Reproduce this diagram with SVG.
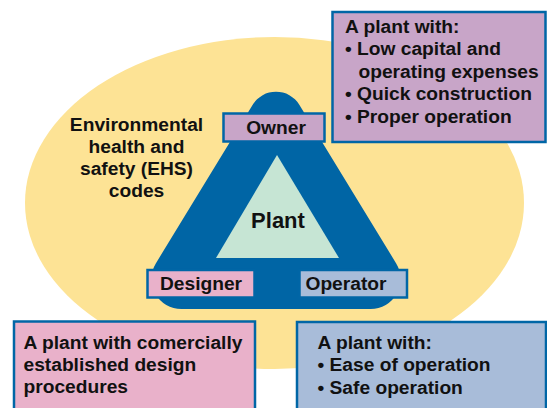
<svg xmlns="http://www.w3.org/2000/svg" width="547" height="408" viewBox="0 0 547 408">
<style>
text{font-family:"Liberation Sans",Arial,sans-serif;font-weight:bold;font-size:19.2px;fill:#111}
.box{stroke:#0066a6;stroke-width:2.5}
.c{text-anchor:middle}
</style>
<rect width="547" height="408" fill="#fff"/>
<ellipse id="ehs-zone" cx="274.5" cy="203" rx="249.5" ry="166" fill="#fde395"/>
<g id="ehs-label">
<text class="c" x="136.5" y="131">Environmental</text>
<text class="c" x="136.5" y="153">health and</text>
<text class="c" x="136.5" y="175">safety (EHS)</text>
<text class="c" x="136.5" y="197">codes</text>
</g>
<g id="triangle">
<path d="M155.8,263.4 L252.7,104.8 A27.3,27.3 0 0 1 299.3,104.8 L396.2,263.4 A30,30 0 0 1 370.6,309 L181.4,309 A30,30 0 0 1 155.8,263.4 Z" fill="#0065a5"/>
</g>
<g id="plant">
<polygon points="277,155 216,258 339,258" fill="#c6e5d4"/>
<text class="c" x="278" y="228" style="font-size:22px">Plant</text>
</g>
<g id="owner">
<rect class="box" x="223.5" y="113.5" width="101" height="28" fill="#c8a5c8"/>
<text class="c" x="276" y="134">Owner</text>
</g>
<g id="designer">
<rect class="box" x="147.5" y="270" width="107" height="27.5" fill="#e9b1ca"/>
<text class="c" x="201" y="290">Designer</text>
</g>
<g id="operator">
<rect class="box" x="299.5" y="270" width="107.5" height="27.5" fill="#a8bcd9"/>
<text class="c" x="346" y="290">Operator</text>
</g>
<g id="owner-needs">
<rect class="box" x="332.5" y="12" width="213" height="130" fill="#c8a5c8"/>
<text x="345" y="33">A plant with:</text>
<text x="345" y="55">• Low capital and</text>
<text x="358.5" y="77.5">operating expenses</text>
<text x="345" y="100">• Quick construction</text>
<text x="345" y="123">• Proper operation</text>
</g>
<g id="designer-needs">
<rect class="box" x="14" y="321.5" width="241" height="100" fill="#e9b1ca"/>
<text x="23.5" y="349">A plant with comercially</text>
<text x="23.5" y="371">established design</text>
<text x="23.5" y="393">procedures</text>
</g>
<g id="operator-needs">
<rect class="box" x="297" y="322" width="249" height="100" fill="#a8bcd9"/>
<text x="317.5" y="348.5">A plant with:</text>
<text x="317.5" y="371">• Ease of operation</text>
<text x="317.5" y="393.5">• Safe operation</text>
</g>
<g id="connectors"></g>
</svg>
